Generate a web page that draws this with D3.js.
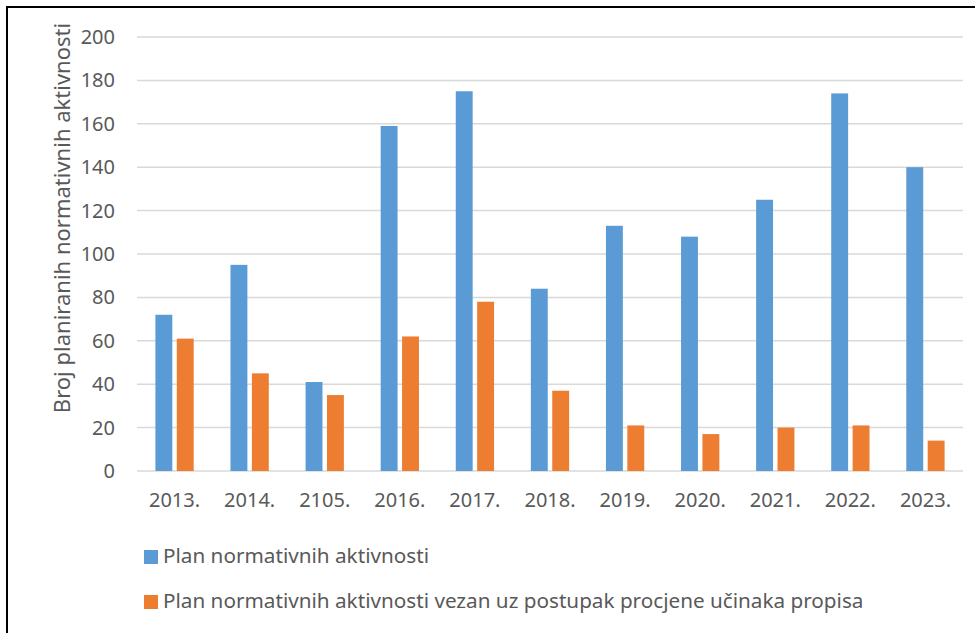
<!DOCTYPE html>
<html>
<head>
<meta charset="utf-8">
<script src="https://cdn.jsdelivr.net/npm/d3@7"></script>
<style>
  body { margin: 0; background: #fff; }
  svg { display: block; }
  text { font-variant-ligatures: none; }
</style>
</head>
<body>
<div class="chart"></div>
<script>
let years = ['2013.', '2014.', '2105.', '2016.', '2017.', '2018.', '2019.', '2020.', '2021.', '2022.', '2023.'];
let planValues = [72, 95, 41, 159, 175, 84, 113, 108, 125, 174, 140];
let procjenaValues = [61, 45, 35, 62, 78, 37, 21, 17, 20, 21, 14];
let seriesNames = ['Plan normativnih aktivnosti', 'Plan normativnih aktivnosti vezan uz postupak procjene učinaka propisa'];
let yTicks = [0, 20, 40, 60, 80, 100, 120, 140, 160, 180, 200];
let yTitle = 'Broj planiranih normativnih aktivnosti';

let config = {
  width: 979,
  height: 633,
  left: 137,
  right: 963,
  top: 37,
  bottom: 471,
  font: '"Noto Sans", sans-serif',
  fontSize: '20px',
  legendFontSize: '20.7px',
  titleFontSize: '22px',
  textColor: '#595959',
  gridColor: '#d9d9d9',
  colors: ['#5b9bd5', '#ed7d31']
}

let svg = d3.select('div.chart').append('svg')
  .attr('width', config.width)
  .attr('height', config.height);

// frame (only top and left visible in the crop)
svg.append('path')
  .attr('d', 'M7,' + config.height + ' V7 H975')
  .attr('fill', 'none')
  .attr('stroke', '#000')
  .attr('stroke-width', 2);

let y = d3.scaleLinear().domain([0, 200]).range([config.bottom, config.top]);

let x = d3.scaleBand()
  .domain(years)
  .range([config.left, config.right])
  .paddingInner(0.49)
  .paddingOuter(0.245);

let xInner = d3.scaleBand()
  .domain([0, 1])
  .range([0, x.bandwidth()])
  .paddingInner(0.21);

// gridlines
svg.append('g').selectAll('line')
  .data(yTicks)
  .enter().append('line')
  .attr('x1', config.left).attr('x2', config.right)
  .attr('y1', d => y(d)).attr('y2', d => y(d))
  .attr('stroke', config.gridColor)
  .attr('stroke-width', 1.5);

// y axis labels
let yAxis = svg.append('g')
  .attr('transform', 'translate(' + config.left + ',0)')
  .call(d3.axisLeft(y).tickValues(yTicks).tickSize(0).tickPadding(22));
yAxis.select('.domain').remove();
yAxis.selectAll('text')
  .attr('fill', config.textColor)
  .attr('font-family', config.font)
  .attr('font-size', config.fontSize);

// x axis labels
let xAxis = svg.append('g')
  .attr('transform', 'translate(0,' + config.bottom + ')')
  .call(d3.axisBottom(x).tickSize(0).tickPadding(22));
xAxis.select('.domain').remove();
xAxis.selectAll('text')
  .attr('fill', config.textColor)
  .attr('font-family', config.font)
  .attr('font-size', config.fontSize);

// bars
let series = [planValues, procjenaValues];
series.forEach(function(values, s) {
  svg.append('g').selectAll('rect')
    .data(values)
    .enter().append('rect')
    .attr('x', (d, i) => x(years[i]) + xInner(s))
    .attr('width', xInner.bandwidth())
    .attr('y', d => y(d))
    .attr('height', d => y(0) - y(d))
    .attr('fill', config.colors[s]);
});

// y title
svg.append('text')
  .attr('transform', 'translate(70,' + 218 + ') rotate(-90)')
  .attr('text-anchor', 'middle')
  .attr('fill', config.textColor)
  .attr('font-family', config.font)
  .attr('font-size', config.titleFontSize)
  .text(yTitle);

// legend
let legend = svg.append('g').selectAll('g')
  .data(seriesNames)
  .enter().append('g')
  .attr('transform', (d, i) => 'translate(144,' + (550 + i * 45) + ')');

legend.append('rect')
  .attr('width', 14).attr('height', 14)
  .attr('fill', (d, i) => config.colors[i]);

legend.append('text')
  .attr('x', 19).attr('y', 13)
  .attr('fill', config.textColor)
  .attr('font-family', config.font)
  .attr('font-size', config.legendFontSize)
  .text(d => d);
</script>
</body>
</html>
